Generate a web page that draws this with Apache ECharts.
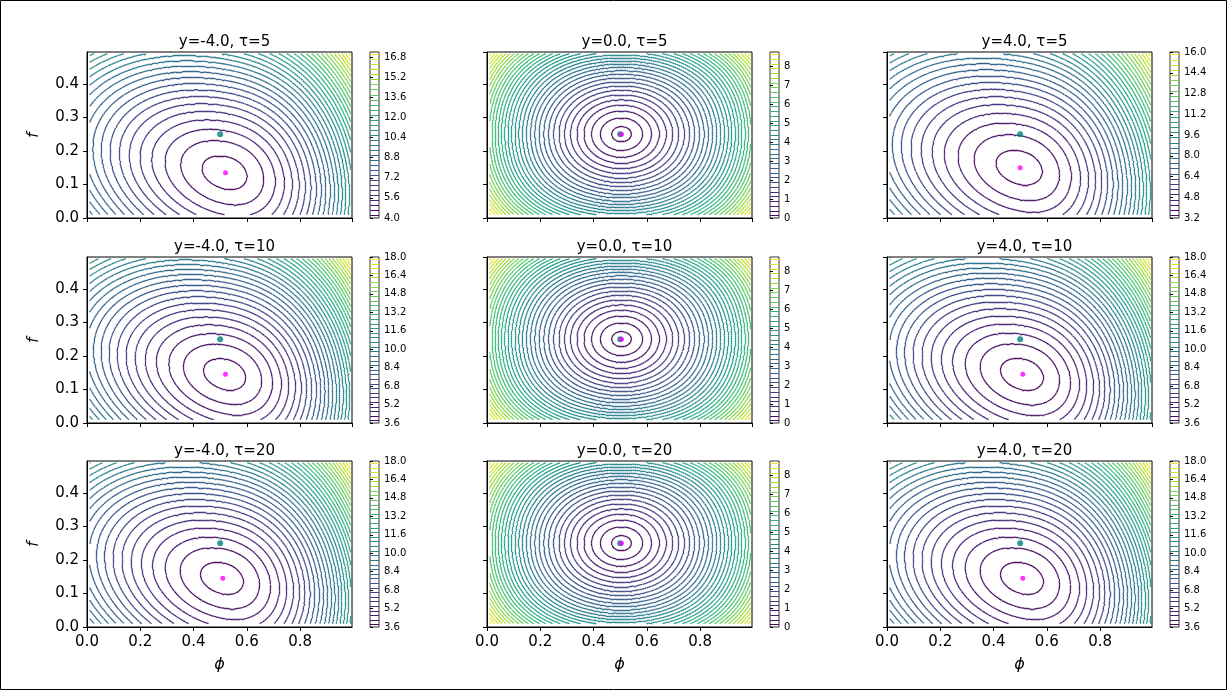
<!DOCTYPE html>
<html><head><meta charset="utf-8">
<script src="https://cdn.jsdelivr.net/npm/echarts@6/dist/echarts.min.js"></script>
<style>body{margin:0;background:#fff}#c{width:1228px;height:691px}</style>
</head><body><div id="c"></div>
<script>
// panel data, row-major (tau = 5, 10, 20; y = -4, 0, 4)
const yVals = ['-4.0', '0.0', '4.0'];
const tauVals = [5, 10, 20];
const levelMin = [4.0, 0, 3.2, 3.6, 0, 3.6, 3.6, 0, 3.6];
const levelMax = [17.2, 8.75, 16.0, 18.0, 8.75, 18.0, 18.0, 8.75, 18.0];
const levelStep = [0.4, 0.25, 0.4, 0.4, 0.25, 0.4, 0.4, 0.25, 0.4];
const tickStep = [1.6, 1, 1.6, 1.6, 1, 1.6, 1.6, 1, 1.6];
const estPoint = [[0.52, 0.135], [0.505, 0.25], [0.5, 0.15], [0.52, 0.145], [0.505, 0.25], [0.51, 0.145], [0.51, 0.145], [0.505, 0.25], [0.51, 0.145]];
const truePoint = [0.5, 0.25];

const viridis = ['#440154','#482878','#3e4989','#31688e','#26828e','#1f9e89','#35b779','#6ece58','#b5de2b','#fde725'];
function cmap(t){
  t = Math.max(0, Math.min(1, t)) * (viridis.length - 1);
  const i = Math.min(Math.floor(t), viridis.length - 2), f = t - i;
  const a = viridis[i], b = viridis[i+1];
  const p = k => parseInt(a.substr(k,2),16)*(1-f) + parseInt(b.substr(k,2),16)*f;
  return 'rgb(' + [1,3,5].map(k => Math.round(p(k))).join(',') + ')';
}

// surface shape around the estimate
function shape(p, x, f){
  const [x0, f0] = estPoint[p];
  if (p % 3 === 1) {
    const u = (x - x0) / 0.49, v = (f - f0) / 0.3;
    return Math.pow(u*u + v*v + 0.3*(u**4 + v**4), 0.72);
  }
  const u = (x - x0) / 0.5, v = (f - f0) / 0.25;
  return Math.pow(4.1*u*u + 3.15*v*v + 1.8*u*v + 5*Math.max(u, 0)**3, 0.85);
}

const NX = 130, NY = 90;
function contours(p){
  const xs = [], fs = [], z = [];
  for (let i = 0; i <= NX; i++) xs.push(0.01 + 0.98*i/NX);
  for (let j = 0; j <= NY; j++) fs.push(0.01 + 0.48*j/NY);
  let mx = 0;
  for (let j = 0; j <= NY; j++){ z.push([]); for (let i = 0; i <= NX; i++){ const v = shape(p, xs[i], fs[j]); z[j].push(v); mx = Math.max(mx, v);} }
  const lo = levelMin[p], hi = levelMax[p];
  for (let j = 0; j <= NY; j++) for (let i = 0; i <= NX; i++) z[j][i] = lo + (hi - lo) * z[j][i] / mx;
  const segs = [];
  for (let L = lo + levelStep[p]/2; L < hi; L += levelStep[p]){
    const col = cmap((L - lo) / (hi - lo));
    for (let j = 0; j < NY; j++) for (let i = 0; i < NX; i++){
      const c = [[xs[i],fs[j],z[j][i]],[xs[i+1],fs[j],z[j][i+1]],[xs[i+1],fs[j+1],z[j+1][i+1]],[xs[i],fs[j+1],z[j+1][i]]];
      const pts = [];
      for (let e = 0; e < 4; e++){
        const a = c[e], b = c[(e+1)%4];
        if ((a[2] < L) !== (b[2] < L)){
          const t = (L - a[2]) / (b[2] - a[2]);
          pts.push([a[0] + t*(b[0]-a[0]), a[1] + t*(b[1]-a[1])]);
        }
      }
      if (pts.length >= 2) segs.push({coords: [pts[0], pts[1]], lineStyle: {color: col}});
      if (pts.length === 4) segs.push({coords: [pts[2], pts[3]], lineStyle: {color: col}});
    }
  }
  return segs;
}

const colLeft = [87, 487, 887], cbLeft = [370, 770, 1170], rowTop = [52, 257, 461];
const W = 265, H = 166;
const grid = [], xAxis = [], yAxis = [], series = [], title = [];
for (let p = 0; p < 9; p++){
  const r = Math.floor(p / 3), c = p % 3;
  const g = 2*p, cb = 2*p + 1;
  const k = (levelMax[p] - levelMin[p]) / tickStep[p];
  const maxOnTick = Math.abs(k - Math.round(k)) < 1e-6;
  grid.push({left: colLeft[c], top: rowTop[r], width: W, height: H, show: true, borderColor: '#000', borderWidth: 1});
  grid.push({left: cbLeft[c], top: rowTop[r], width: 9, height: H, show: true, borderColor: '#000', borderWidth: 0.8});
  title.push({text: 'y=' + yVals[c] + ', \u03c4=' + tauVals[r], left: colLeft[c] + W/2, top: rowTop[r] - 22, textAlign: 'center',
    textStyle: {fontSize: 15, fontWeight: 'normal', color: '#000', fontFamily: 'DejaVu Sans'}});
  xAxis.push({gridIndex: g, type: 'value', min: 0, max: 0.995, interval: 0.2,
    name: r === 2 ? '\u03d5' : '', nameLocation: 'middle', nameGap: 30, nameTextStyle: {fontSize: 16, color: '#000', fontStyle: 'italic'},
    axisLine: {show: true, lineStyle: {color: '#000'}}, axisTick: {show: true, length: 4, lineStyle: {color: '#000'}},
    axisLabel: {show: r === 2, fontSize: 15, color: '#000', formatter: v => v.toFixed(1), showMaxLabel: false}, splitLine: {show: false}});
  yAxis.push({gridIndex: g, type: 'value', min: 0, max: 0.495, interval: 0.1,
    name: c === 0 ? 'f' : '', nameLocation: 'middle', nameGap: 45, nameTextStyle: {fontSize: 15, color: '#000', fontStyle: 'italic'},
    axisLine: {show: true, lineStyle: {color: '#000'}}, axisTick: {show: true, length: 4, lineStyle: {color: '#000'}},
    axisLabel: {show: c === 0, fontSize: 15, color: '#000', formatter: v => v.toFixed(1), showMaxLabel: false}, splitLine: {show: false}});
  xAxis.push({gridIndex: cb, type: 'value', min: 0, max: 1, show: false});
  yAxis.push({gridIndex: cb, type: 'value', position: 'right', min: levelMin[p], max: levelMax[p], interval: tickStep[p],
    axisLine: {show: false}, axisTick: {show: true, length: 3, lineStyle: {color: '#000'}},
    axisLabel: {fontSize: 10, color: '#000', margin: 5, showMaxLabel: maxOnTick,
      formatter: v => tickStep[p] < 1.5 ? String(Math.round(v)) : v.toFixed(1)},
    splitLine: {show: false}});
  series.push({type: 'lines', coordinateSystem: 'cartesian2d', xAxisIndex: g, yAxisIndex: g, polyline: false, silent: true,
    progressive: 0, large: false, lineStyle: {width: 1.3, opacity: 1}, data: contours(p)});
  const lv = [];
  for (let L = levelMin[p] + levelStep[p]/2; L < levelMax[p]; L += levelStep[p]) lv.push({coords: [[0, L], [1, L]], lineStyle: {color: cmap((L - levelMin[p]) / (levelMax[p] - levelMin[p]))}});
  series.push({type: 'lines', coordinateSystem: 'cartesian2d', xAxisIndex: cb, yAxisIndex: cb, silent: true, progressive: 0, lineStyle: {width: 1.2, opacity: 1}, data: lv});
  series.push({type: 'scatter', xAxisIndex: g, yAxisIndex: g, symbolSize: 6, z: 5, itemStyle: {color: '#008080'}, data: [truePoint]});
  series.push({type: 'scatter', xAxisIndex: g, yAxisIndex: g, symbolSize: 5, z: 6, itemStyle: {color: '#ff00ff'}, data: [estPoint[p]]});
}

const chart = echarts.init(document.getElementById('c'));
chart.setOption({
  animation: false, textStyle: {fontFamily: 'DejaVu Sans'},
  title, grid, xAxis, yAxis, series,
  graphic: [{type: 'rect', shape: {x: 0.5, y: 0.5, width: 1226, height: 689}, style: {fill: 'none', stroke: '#000', lineWidth: 1}}]
});
</script></body></html>
